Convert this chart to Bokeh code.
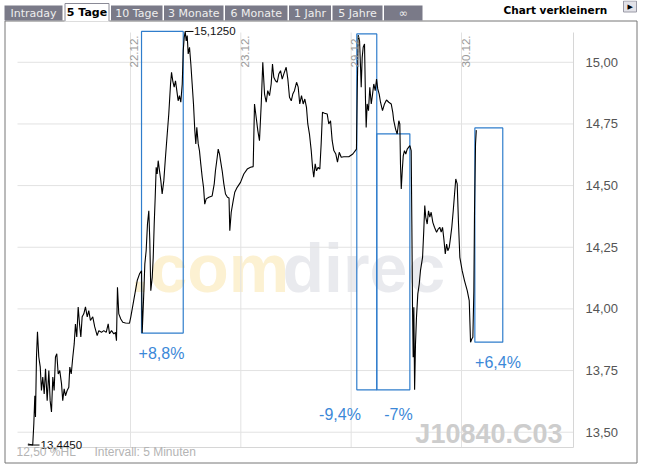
import math
from bokeh.plotting import figure
from bokeh.models import Range1d, FixedTicker, ColumnDataSource, Label
from bokeh.core.properties import value
from bokeh.embed import file_html
from bokeh.resources import INLINE

# ---------------- data (x = trading day index + fraction of day, y = price) ----------------
tag1 = [(0.070, 13.452), (0.114, 13.448), (0.124, 13.534), (0.133, 13.648), (0.139, 13.562), (0.148, 13.805),
        (0.157, 13.907), (0.169, 13.805), (0.182, 13.765), (0.193, 13.669), (0.205, 13.724), (0.218, 13.655),
        (0.230, 13.757), (0.245, 13.628), (0.260, 13.750), (0.272, 13.628), (0.284, 13.582), (0.296, 13.724),
        (0.308, 13.669), (0.320, 13.805), (0.332, 13.818), (0.345, 13.736), (0.359, 13.750), (0.375, 13.696),
        (0.386, 13.628), (0.399, 13.676), (0.411, 13.648), (0.426, 13.669), (0.441, 13.682), (0.450, 13.764),
        (0.463, 13.736), (0.477, 13.804), (0.490, 13.858), (0.501, 13.939), (0.513, 13.886), (0.526, 14.008),
        (0.538, 13.939), (0.550, 13.886), (0.562, 13.968), (0.577, 13.980), (0.592, 14.008), (0.608, 13.968),
        (0.622, 13.993), (0.637, 13.953), (0.658, 13.968), (0.676, 13.927), (0.698, 13.892), (0.713, 13.912),
        (0.737, 13.905), (0.758, 13.912), (0.780, 13.905), (0.798, 13.939), (0.810, 13.899), (0.828, 13.912),
        (0.849, 13.899), (0.864, 13.905), (0.873, 13.871), (0.882, 14.088), (0.894, 13.980), (0.912, 13.959),
        (0.930, 13.946), (0.955, 13.943), (0.991, 13.942)]
tag2 = [(1.003, 13.968), (1.061, 14.115), (1.082, 14.142), (1.100, 14.155), (1.106, 13.902), (1.118, 14.034),
        (1.130, 14.182), (1.142, 14.236), (1.154, 14.344), (1.166, 14.398), (1.175, 14.277), (1.184, 14.074),
        (1.197, 14.128), (1.206, 14.209), (1.215, 14.344), (1.224, 14.453), (1.233, 14.574), (1.242, 14.547),
        (1.251, 14.601), (1.263, 14.560), (1.275, 14.520), (1.287, 14.466), (1.302, 14.520), (1.317, 14.615),
        (1.333, 14.709), (1.347, 14.790), (1.363, 14.912), (1.372, 14.959), (1.383, 14.925), (1.396, 14.899),
        (1.408, 14.925), (1.420, 14.885), (1.432, 14.844), (1.444, 14.865), (1.456, 14.838), (1.469, 14.912),
        (1.478, 15.047), (1.487, 15.101), (1.496, 15.125), (1.505, 15.087), (1.514, 15.108), (1.523, 15.034),
        (1.535, 15.061), (1.547, 14.993), (1.559, 14.912), (1.571, 14.831), (1.583, 14.723), (1.592, 14.669),
        (1.601, 14.736), (1.614, 14.669), (1.625, 14.642), (1.637, 14.588), (1.650, 14.534), (1.662, 14.493),
        (1.673, 14.425), (1.686, 14.446), (1.710, 14.453), (1.740, 14.458), (1.759, 14.507), (1.770, 14.560),
        (1.786, 14.615), (1.795, 14.648), (1.807, 14.628), (1.816, 14.601), (1.831, 14.560), (1.846, 14.507),
        (1.861, 14.466), (1.879, 14.453), (1.893, 14.450), (1.900, 14.317), (1.913, 14.392), (1.931, 14.439),
        (1.945, 14.473), (1.967, 14.493), (1.997, 14.513)]
tag3 = [(2.027, 14.547), (2.058, 14.567), (2.088, 14.574), (2.112, 14.577), (2.124, 14.831), (2.139, 14.777),
        (2.154, 14.723), (2.169, 14.682), (2.185, 14.831), (2.199, 15.000), (2.215, 14.871), (2.230, 14.838),
        (2.244, 14.885), (2.260, 14.865), (2.275, 14.912), (2.287, 14.993), (2.299, 14.939), (2.314, 14.925),
        (2.330, 14.919), (2.344, 14.952), (2.360, 14.966), (2.375, 14.932), (2.389, 14.952), (2.411, 14.980),
        (2.426, 14.932), (2.441, 14.858), (2.457, 14.844), (2.471, 14.871), (2.486, 14.885), (2.505, 14.919),
        (2.520, 14.899), (2.534, 14.831), (2.550, 14.865), (2.565, 14.831), (2.580, 14.851), (2.595, 14.817),
        (2.607, 14.750), (2.622, 14.709), (2.638, 14.642), (2.650, 14.574), (2.661, 14.534), (2.674, 14.588),
        (2.686, 14.560), (2.701, 14.574), (2.716, 14.567), (2.728, 14.669), (2.740, 14.797), (2.758, 14.793),
        (2.783, 14.790), (2.797, 14.750), (2.813, 14.763), (2.828, 14.682), (2.843, 14.642), (2.861, 14.628),
        (2.876, 14.595), (2.892, 14.635), (2.910, 14.615), (2.933, 14.617), (2.979, 14.617)]
tag4 = [(3.015, 14.628), (3.048, 14.648), (3.055, 14.885), (3.064, 15.110), (3.076, 15.087), (3.085, 14.980),
        (3.091, 14.899), (3.100, 15.020), (3.109, 15.061), (3.121, 15.074), (3.130, 14.844), (3.136, 14.736),
        (3.145, 14.831), (3.157, 14.804), (3.169, 14.899), (3.182, 14.831), (3.194, 14.871), (3.205, 14.912),
        (3.218, 14.885), (3.230, 14.932), (3.241, 14.892), (3.254, 14.871), (3.266, 14.838), (3.284, 14.804),
        (3.302, 14.831), (3.320, 14.847), (3.341, 14.838), (3.363, 14.831), (3.377, 14.797), (3.386, 14.763),
        (3.402, 14.730), (3.417, 14.709), (3.432, 14.763), (3.441, 14.750), (3.447, 14.588), (3.454, 14.486),
        (3.463, 14.560), (3.472, 14.621), (3.483, 14.642), (3.495, 14.628), (3.508, 14.648), (3.520, 14.655),
        (3.532, 14.662), (3.544, 14.642), (3.550, 14.344), (3.556, 14.007), (3.562, 13.804), (3.568, 14.007),
        (3.575, 13.672), (3.583, 13.858), (3.592, 13.966), (3.604, 14.061), (3.617, 14.101), (3.628, 14.155),
        (3.647, 14.209), (3.658, 14.317), (3.667, 14.419), (3.676, 14.372), (3.689, 14.344), (3.701, 14.398),
        (3.713, 14.372), (3.725, 14.392), (3.740, 14.351), (3.755, 14.331), (3.774, 14.311), (3.789, 14.324),
        (3.803, 14.331), (3.816, 14.311), (3.828, 14.331), (3.840, 14.284), (3.853, 14.223), (3.865, 14.263),
        (3.876, 14.236), (3.889, 14.250), (3.901, 14.291), (3.912, 14.331), (3.925, 14.398), (3.937, 14.466),
        (3.948, 14.527), (3.961, 14.507), (3.973, 14.344), (3.985, 14.209)]
tag5 = [(4.006, 14.155), (4.027, 14.115), (4.052, 14.074), (4.070, 14.034), (4.082, 13.865), (4.093, 13.878),
        (4.103, 13.885), (4.112, 14.074), (4.118, 14.398), (4.127, 14.669), (4.134, 14.725)]

tag_grenzen = [1, 2, 3, 4]
tag_labels = ["22.12.", "23.12.", "29.12.", "30.12."]

y_ticks = [13.50, 13.75, 14.00, 14.25, 14.50, 14.75, 15.00]
y_tick_labels = ["13,50", "13,75", "14,00", "14,25", "14,50", "14,75", "15,00"]

hoch_x, hoch_wert, hoch_text = 1.496, 15.125, "15,1250"
tief_x, tief_wert, tief_text = 0.114, 13.448, "13,4450"

box_links = [1.100, 3.051, 3.232, 4.121]
box_rechts = [1.478, 3.232, 3.532, 4.374]
box_tief = [13.902, 13.672, 13.672, 13.865]
box_hoch = [15.125, 15.115, 14.710, 14.734]
box_texte = ["+8,8%", "-9,4%", "-7%", "+6,4%"]

tabs = ["Intraday", "5 Tage", "10 Tage", "3 Monate", "6 Monate", "1 Jahr", "5 Jahre", "\u221e"]
aktiver_tab = "5 Tage"

# ---------------- layout (page pixels -> data coordinates) ----------------
W, H = 645, 469
PLOT_L, PLOT_R, PLOT_T, PLOT_B = 17, 573, 28, 447
X0, X1 = -0.024, 5.015
Y0, Y1 = 13.438, 15.137
SX = (PLOT_R - PLOT_L) / (X1 - X0)
SY = (PLOT_B - PLOT_T) / (Y1 - Y0)


def X(px):
    return X0 + (px - PLOT_L) / SX


def Y(py):
    return Y1 - (py - PLOT_T) / SY


p = figure(width=W, height=H,
           x_range=Range1d(X(0), X(W)), y_range=Range1d(Y(H), Y(0)),
           x_axis_location=None, y_axis_location="right",
           output_backend="svg", toolbar_location=None, min_border=0)
p.title.visible = False
p.outline_line_color = None
p.background_fill_color = "white"
p.border_fill_color = "white"
p.xgrid.visible = False
p.ygrid.visible = False

# right value axis, fixed at the right edge of the plot area
ax = p.yaxis[0]
ax.fixed_location = X(PLOT_R)
ax.ticker = FixedTicker(ticks=y_ticks)
ax.major_label_overrides = {t: l for t, l in zip(y_ticks, y_tick_labels)}
ax.axis_line_color = None
ax.major_tick_line_color = None
ax.minor_tick_line_color = None
ax.major_label_standoff = 6
ax.major_label_text_font = "Liberation Sans"
ax.major_label_text_font_size = "13px"
ax.major_label_text_color = "#555555"

# watermark (below the grid)
wm1 = p.text(x=[X(130)], y=[Y(267)], text=[".com"], text_font=value("Liberation Sans"),
             text_font_style="bold", text_font_size="68px", text_color="#fcf1d2",
             text_align="left", text_baseline="alphabetic")
wm1.level = "image"
wm2 = p.text(x=[X(282)], y=[Y(267)], text=["direc"], text_font=value("Liberation Sans"),
             text_font_style="bold", text_font_size="68px", text_color="#e9eaee",
             text_align="left", text_baseline="alphabetic")
wm2.level = "image"

# grid lines of the plot area
hg = p.segment(x0=[X(PLOT_L)] * len(y_ticks), y0=y_ticks, x1=[X(PLOT_R)] * len(y_ticks), y1=y_ticks,
               line_color="#e2e2e2", line_width=1)
hg.level = "underlay"
vg = p.segment(x0=tag_grenzen, y0=[Y(PLOT_B)] * 4, x1=tag_grenzen, y1=[Y(32)] * 4,
               line_color="#e2e2e2", line_width=1)
vg.level = "underlay"
fr = p.multi_line(xs=[[X(PLOT_L), X(PLOT_R), X(PLOT_R)]], ys=[[Y(PLOT_B), Y(PLOT_B), Y(32)]],
                  line_color="#d6d6d6", line_width=1)
fr.level = "underlay"

p.text(x=[X(562)], y=[Y(433)], text=["J10840.C03"], text_font=value("Liberation Sans"),
       text_font_style="bold", text_font_size="27px", text_color="#cdcdcd",
       text_align="right", text_baseline="alphabetic")

# boxes
box_src = ColumnDataSource(dict(left=box_links, right=box_rechts, bottom=box_tief, top=box_hoch))
p.quad(left="left", right="right", bottom="bottom", top="top", source=box_src,
       fill_color=None, line_color="#2f7dcc", line_width=1.2)

# price line
punkte = tag1 + tag2 + tag3 + tag4 + tag5
line_src = ColumnDataSource(dict(x=[a for a, b in punkte], y=[b for a, b in punkte]))
p.line("x", "y", source=line_src, line_color="black", line_width=1.1)

# percent labels
pct_src = ColumnDataSource(dict(x=[X(161), X(339.5), X(398), X(497.5)],
                                y=[Y(353), Y(414), Y(414), Y(361.5)], t=box_texte))
p.text(x="x", y="y", text="t", source=pct_src, text_font=value("Liberation Sans"),
       text_font_size="16px", text_color="#3b88d8", text_align="center", text_baseline="middle")

# high / low markers
p.segment(x0=[hoch_x], y0=[hoch_wert], x1=[X(193)], y1=[hoch_wert], line_color="black", line_width=1)
p.segment(x0=[0.070], y0=[tief_wert], x1=[X(39)], y1=[tief_wert], line_color="black", line_width=1)
p.add_layout(Label(x=X(193.5), y=hoch_wert, text=hoch_text, text_font="Liberation Sans",
                   text_font_size="11.5px", text_color="#111111", text_align="left", text_baseline="middle"))
p.add_layout(Label(x=X(40), y=tief_wert, text=tief_text, text_font="Liberation Sans",
                   text_font_size="11.5px", text_color="#111111", text_align="left", text_baseline="middle"))

# day labels
day_src = ColumnDataSource(dict(x=tag_grenzen, y=[Y(67)] * 4, t=tag_labels))
p.text(x="x", y="y", text="t", source=day_src, angle=math.pi / 2, text_align="left", text_baseline="top",
       text_font=value("Liberation Sans"), text_font_size="11.5px", text_color="#9a9a9a")

# bottom info texts
p.add_layout(Label(x=X(16), y=Y(451), text="12,50 %HL", text_font="Liberation Sans", text_font_size="12px",
                   text_color="#b4b4b4", text_align="left", text_baseline="middle"))
p.add_layout(Label(x=X(94), y=Y(451), text="Intervall: 5 Minuten", text_font="Liberation Sans",
                   text_font_size="12px", text_color="#b4b4b4", text_align="left", text_baseline="middle"))

# outer frame
p.quad(left=[X(4.5)], right=[X(636.5)], top=[Y(20.5)], bottom=[Y(462.5)],
       fill_color=None, line_color="#777777", line_width=1)

# tabs
tab_grenzen = [(4, 62), (64, 109), (110.5, 162), (163.5, 223), (224.5, 287), (288.5, 330.5), (332, 382), (383.5, 422)]
inakt = [(n, lr) for n, lr in zip(tabs, tab_grenzen) if n != aktiver_tab]
akt = [(n, lr) for n, lr in zip(tabs, tab_grenzen) if n == aktiver_tab]
p.quad(left=[X(l) for n, (l, r) in inakt], right=[X(r) for n, (l, r) in inakt],
       top=[Y(5)] * len(inakt), bottom=[Y(20)] * len(inakt), fill_color="#7a7a88", line_color=None)
p.text(x=[X((l + r) / 2) for n, (l, r) in inakt], y=[Y(12.5)] * len(inakt), text=[n for n, lr in inakt],
       text_font=value("DejaVu Sans"), text_font_size="11px", text_color="#eeeeee",
       text_align="center", text_baseline="middle")
for n, (l, r) in akt:
    p.quad(left=[X(l)], right=[X(r)], top=[Y(2.5)], bottom=[Y(21)], fill_color="white", line_color=None)
    p.multi_line(xs=[[X(l + 0.5), X(l + 0.5), X(r - 0.5), X(r - 0.5)]], ys=[[Y(20.5), Y(3), Y(3), Y(20.5)]],
                 line_color="#8a8a96", line_width=1)
    p.text(x=[X((l + r) / 2)], y=[Y(12)], text=[n], text_font=value("DejaVu Sans"), text_font_size="11px",
           text_font_style="bold", text_color="black", text_align="center", text_baseline="middle")

# "Chart verkleinern" header and button
p.text(x=[X(503)], y=[Y(9.5)], text=["Chart verkleinern"], text_font=value("DejaVu Sans"),
       text_font_size="10.5px", text_font_style="bold", text_color="black",
       text_align="left", text_baseline="alphabetic")
p.quad(left=[X(623)], right=[X(636)], top=[Y(0.5)], bottom=[Y(11.5)],
       fill_color="#e2e2e8", line_color="#9a9aa6", line_width=1)
p.text(x=[X(629.8)], y=[Y(6)], text=["\u25b6"], text_font=value("DejaVu Sans"), text_font_size="7px",
       text_color="black", text_align="center", text_baseline="middle")

open("out.html", "w").write(file_html(p, INLINE))
